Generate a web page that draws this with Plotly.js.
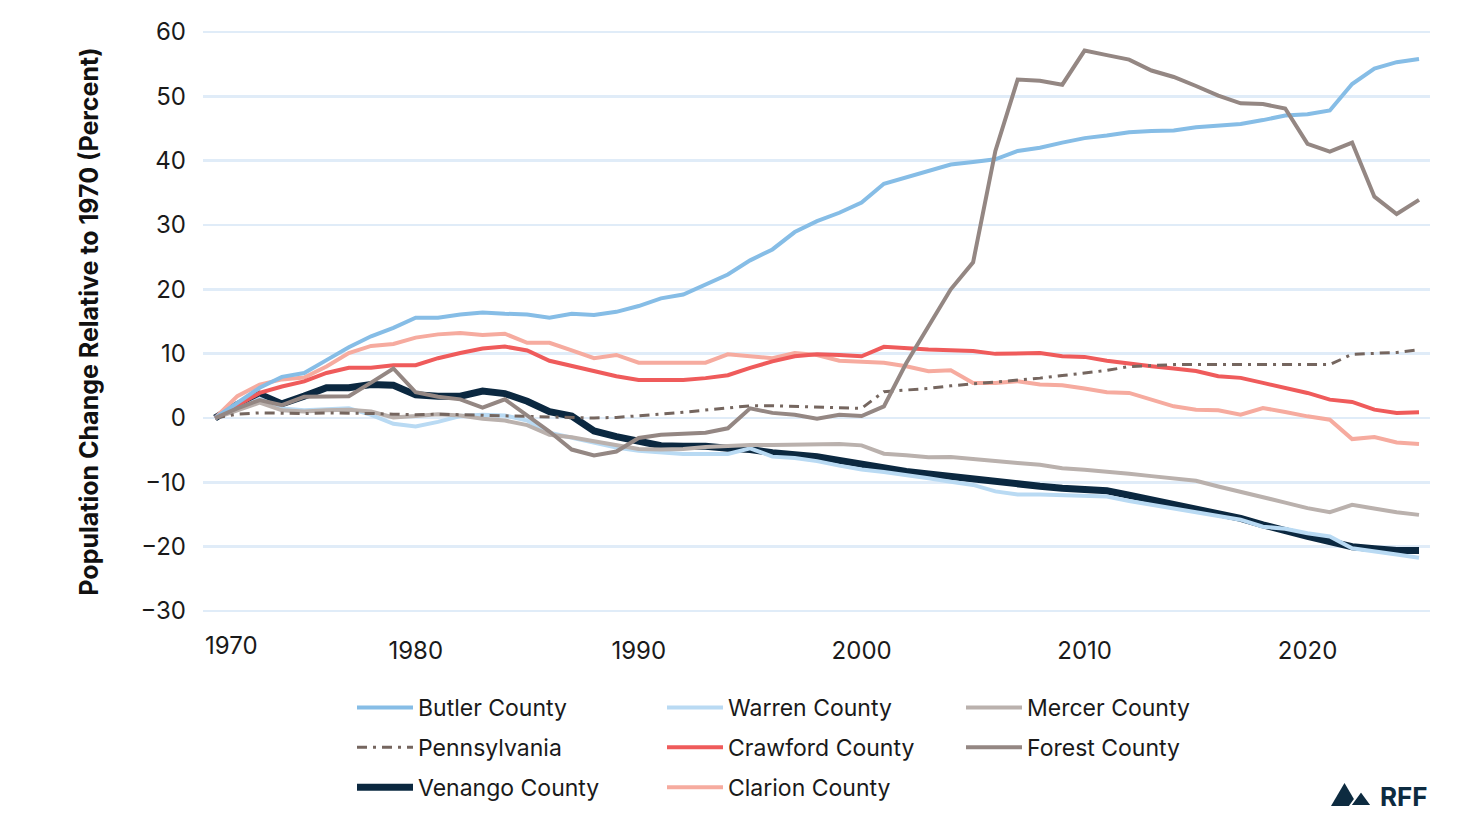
<!DOCTYPE html>
<html><head><meta charset="utf-8">
<script src="https://cdn.plot.ly/plotly-3.0.1.min.js"></script>
<style>html,body{margin:0;padding:0;background:#fff;}#chart{width:1480px;height:820px;}</style>
</head><body><div id="chart"></div>
<script>
const years = [1970,1971,1972,1973,1974,1975,1976,1977,1978,1979,1980,1981,1982,1983,1984,1985,1986,1987,1988,1989,1990,1991,1992,1993,1994,1995,1996,1997,1998,1999,2000,2001,2002,2003,2004,2005,2006,2007,2008,2009,2010,2011,2012,2013,2014,2015,2016,2017,2018,2019,2020,2021,2022,2023,2024];

const butler = [0,2.3,4.7,6.4,7.0,9.0,11.0,12.7,14.0,15.6,15.6,16.1,16.4,16.2,16.1,15.6,16.2,16.0,16.5,17.4,18.6,19.2,20.8,22.3,24.5,26.2,28.9,30.6,31.9,33.5,36.4,37.4,38.5,39.4,39.8,40.2,41.5,42.0,42.8,43.5,43.9,44.4,44.6,44.7,45.2,45.4,45.7,46.3,47.0,47.2,47.8,51.9,54.3,55.3,55.8];
const pennsylvania = [0,0.6,0.8,0.7,0.7,0.8,0.8,0.7,0.6,0.5,0.6,0.5,0.4,0.3,0.2,0.1,0.0,0.0,0.1,0.3,0.6,0.9,1.2,1.6,1.9,1.9,1.8,1.6,1.5,1.5,4.1,4.3,4.6,5.0,5.3,5.5,5.9,6.2,6.6,7.0,7.4,8.0,8.2,8.3,8.3,8.3,8.3,8.3,8.4,8.3,8.3,9.9,10.0,10.2,10.6];
const venango = [0,2.1,3.7,2.2,3.4,4.7,4.7,5.2,5.1,3.6,3.4,3.4,4.2,3.8,2.6,1.0,0.3,-2.0,-2.9,-3.6,-4.3,-4.4,-4.4,-4.7,-4.9,-5.4,-5.6,-6.0,-6.6,-7.2,-7.7,-8.3,-8.7,-9.1,-9.6,-10.0,-10.4,-10.6,-10.9,-11.2,-11.3,-12.0,-12.7,-13.5,-14.3,-14.9,-15.6,-16.6,-17.6,-18.4,-19.2,-20.0,-20.3,-20.6,-20.6];
const warren = [0,1.3,3.0,1.5,1.2,1.4,1.5,0.5,-0.9,-1.3,-0.6,0.3,0.5,0.4,-0.4,-2.3,-3.1,-3.9,-4.6,-5.1,-5.4,-5.6,-5.6,-5.6,-4.7,-6.0,-6.2,-6.7,-7.4,-8.0,-8.4,-8.8,-9.35,-9.9,-10.4,-11.4,-11.9,-11.9,-12.0,-12.2,-12.2,-12.9,-13.5,-14.0,-14.6,-15.2,-15.8,-16.9,-17.2,-17.9,-18.4,-20.25,-20.8,-21.2,-21.7];
const crawford = [0,2.0,3.9,4.9,5.7,7.0,7.8,7.8,8.2,8.2,9.3,10.1,10.8,11.1,10.5,8.9,8.05,7.3,6.5,5.9,5.9,5.9,6.2,6.65,7.8,8.8,9.6,9.9,9.8,9.6,11.06,10.8,10.65,10.55,10.4,9.97,10.0,10.1,9.6,9.5,8.9,8.4,8.05,7.7,7.3,6.5,6.24,5.46,4.68,3.9,2.86,2.5,1.3,0.78,0.89];
const clarion = [0,3.4,5.2,6.0,6.3,8.0,10.1,11.2,11.5,12.5,13.0,13.2,12.9,13.1,11.7,11.7,10.5,9.3,9.8,8.6,8.6,8.6,8.6,9.9,9.6,9.3,10.1,9.8,8.9,8.7,8.6,8.05,7.27,7.43,5.46,5.46,5.72,5.2,5.1,4.58,4.0,3.9,2.86,1.82,1.3,1.2,0.52,1.56,0.94,0.26,-0.26,-3.27,-2.96,-3.79,-4.05];
const mercer = [0,1.2,2.4,1.2,1.0,1.2,1.3,1.0,0.1,0.3,0.6,0.4,-0.1,-0.4,-1.1,-2.6,-3.0,-3.6,-4.2,-4.8,-4.9,-4.8,-4.5,-4.3,-4.2,-4.2,-4.1,-4.0,-4.05,-4.25,-5.55,-5.8,-6.1,-6.07,-6.33,-6.64,-7.0,-7.27,-7.79,-8.05,-8.3,-8.67,-9.03,-9.45,-9.76,-10.64,-11.43,-12.36,-13.14,-14.0,-14.64,-13.5,-14.1,-14.64,-15.05];
const forest = [0,1.5,2.8,2.0,3.3,3.4,3.4,5.5,7.7,4.0,3.3,2.9,1.6,2.9,0.3,-2.1,-4.9,-5.8,-5.2,-3.1,-2.6,-2.5,-2.3,-1.6,1.5,0.8,0.5,-0.1,0.5,0.3,1.8,8.5,14.2,20.0,24.2,41.5,52.6,52.4,51.8,57.1,56.4,55.7,54.0,53.0,51.6,50.1,48.9,48.8,48.1,42.6,41.4,42.8,34.4,31.7,33.9];

const yTicks = [-30,-20,-10,0,10,20,30,40,50,60];
const xTickYears = ['1980','1990','2000','2010','2020'];

// annual estimates, plotted at the end of each year
const xs = years.map(y => y + '-12-31');

const FONT = 'Inter, "Noto Sans", "DejaVu Sans", sans-serif';

function line(name, values, color, width, legend, rank, dash) {
  return {
    type: 'scatter', mode: 'lines', name: name, x: xs, y: values,
    line: {color: color, width: width, dash: dash || 'solid'},
    legend: legend, legendrank: rank, legendgroup: name,
    hoverinfo: 'skip'
  };
}

// drawing order (bottom to top)
const traces = [
  line('Venango County', venango, '#0b2840', 7, 'legend', 3),
  line('Warren County', warren, '#b9daf3', 4, 'legend2', 1),
  line('Mercer County', mercer, '#bab1ad', 4, 'legend3', 1),
  line('Clarion County', clarion, '#f6ab9f', 4, 'legend2', 3),
  line('Crawford County', crawford, '#ef5b5b', 4, 'legend2', 2),
  line('Pennsylvania', pennsylvania, '#75665f', 3, 'legend', 2, '10px,6px,3px,6px'),
  line('Butler County', butler, '#86bde6', 4, 'legend', 1),
  line('Forest County', forest, '#948783', 4, 'legend3', 2)
];

// page geometry: plot area occupies the top part of the paper (y domain),
// legends and logo sit in the lower part of the paper (no margin pushing)
const PW = 1480, PH = 820;
const L = 203, W = 1227, T = 30, B = 8;
const PLOT_BOTTOM = 613;
const IH = PH - T - B;
const px = X => (X - L) / W;
const py = Y => (PH - B - Y) / IH;
function poly(pts) {
  return 'M' + pts.map(p => px(p[0]).toFixed(5) + ',' + py(p[1]).toFixed(5)).join(' L') + ' Z';
}

const legendBase = {
  orientation: 'v', xanchor: 'left', yanchor: 'top', y: py(686),
  font: {family: FONT, size: 23, color: '#1a1a1a'},
  bgcolor: 'rgba(0,0,0,0)', borderwidth: 0,
  tracegroupgap: 7, itemwidth: 56, traceorder: 'grouped',
  itemclick: false, itemdoubleclick: false
};

const layout = {
  width: PW, height: PH,
  margin: {l: L, r: PW - L - W, t: T, b: B},
  paper_bgcolor: '#ffffff', plot_bgcolor: '#ffffff',
  font: {family: FONT, size: 23, color: '#1a1a1a'},
  showlegend: true,
  xaxis: {
    type: 'date',
    range: ['1970-06-17', '2025-06-29'],
    tickvals: xTickYears.map(y => y + '-01-01'),
    ticktext: xTickYears,
    showgrid: false, zeroline: false, showline: false, ticks: '',
    ticklabelstandoff: 21,
    tickfont: {family: FONT, size: 24, color: '#1a1a1a'},
    fixedrange: true
  },
  yaxis: {
    domain: [py(PLOT_BOTTOM), 1],
    range: [-30.3, 60.3],
    tickvals: yTicks,
    showgrid: true, gridcolor: '#e0ecf8', gridwidth: 2.5,
    zeroline: false, showline: false, ticks: '',
    ticklabelstandoff: 16,
    tickfont: {family: FONT, size: 24, color: '#1a1a1a'},
    title: {text: 'Population Change Relative to 1970 (Percent)',
            font: {family: FONT, size: 25, color: '#111111', weight: 700},
            standoff: 34},
    fixedrange: true
  },
  legend: Object.assign({}, legendBase, {x: px(352)}),
  legend2: Object.assign({}, legendBase, {x: px(662)}),
  legend3: Object.assign({}, legendBase, {x: px(961)}),
  annotations: [
    {text: '1970', xref: 'paper', yref: 'paper', x: 0, y: py(645),
     xanchor: 'left', yanchor: 'middle', showarrow: false,
     font: {family: FONT, size: 24, color: '#1a1a1a'}},
    {text: '<b>RFF</b>', xref: 'paper', yref: 'paper', x: px(1430), y: py(796),
     xanchor: 'right', yanchor: 'middle', showarrow: false,
     font: {family: FONT, size: 26, color: '#0d2b40'}}
  ],
  shapes: [
    {type: 'path', xref: 'paper', yref: 'paper',
     path: poly([[1331,806],[1344.5,783],[1358,806]]),
     fillcolor: '#0d2b40', line: {width: 0}},
    {type: 'path', xref: 'paper', yref: 'paper',
     path: poly([[1350,806],[1361,791],[1372,806]]),
     fillcolor: '#0d2b40', line: {color: '#ffffff', width: 2}}
  ]
};

Plotly.newPlot('chart', traces, layout, {staticPlot: true, displayModeBar: false});
</script>
</body></html>
